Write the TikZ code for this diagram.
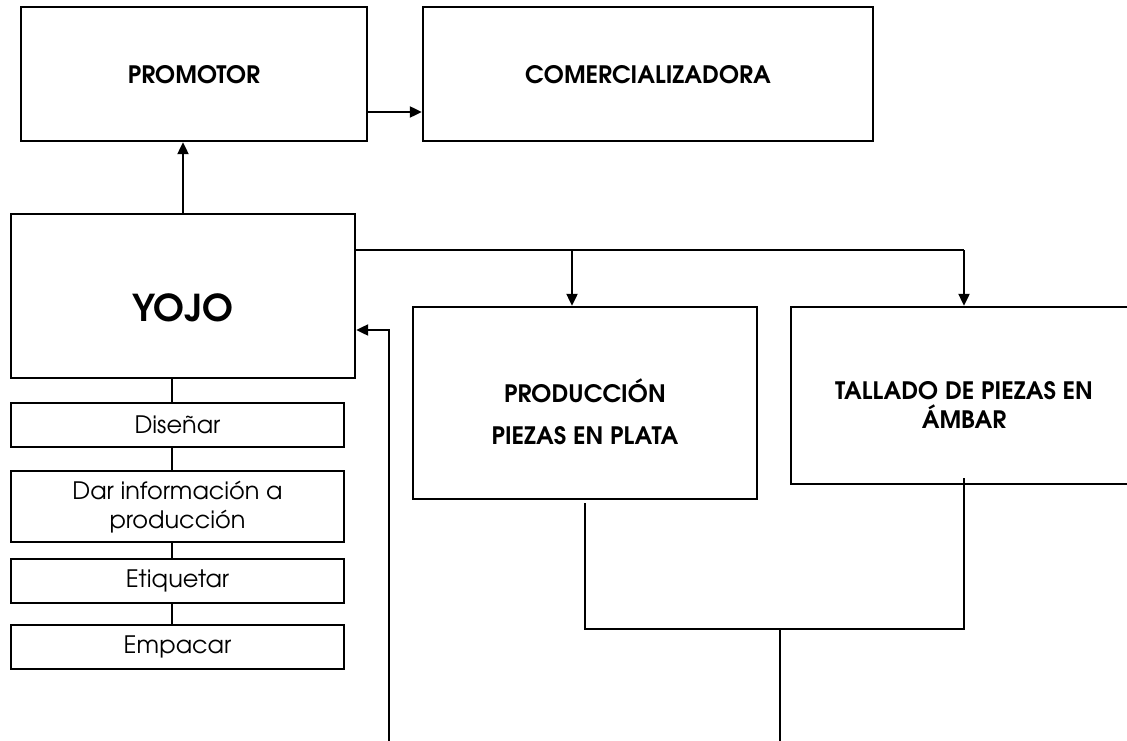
\documentclass[tikz,border=0pt]{standalone}
\usepackage{fontspec}
\setmainfont{TeX Gyre Adventor}
\usetikzlibrary{arrows.meta,calc}
\begin{document}
\begin{tikzpicture}[x=1pt,y=-1pt,
  box/.style={draw,line width=2.4pt,inner sep=0pt,minimum width=#1},
  conn/.style={line width=2.2pt},
  arr/.style={conn,-{Triangle[length=12pt,width=11pt]}},
  title/.style={font=\fontsize{24}{24}\selectfont\bfseries},
  sub/.style={font=\fontsize{24}{29}\selectfont,align=center}
]
\useasboundingbox (0,0) rectangle (1127,741);
\clip (0,0) rectangle (1127,741);
% main boxes
\node[box=346pt,minimum height=134pt] (prom) at (194,74) {};
\node[title] (promt) at (194,75) {PROMOTOR};
\node[box=450pt,minimum height=134pt] (com) at (648,74) {};
\node[title] (comt) at (648,75) {COMERCIALIZADORA};
\node[box=344pt,minimum height=164pt] (yojo) at (183,296) {};
\node[font=\fontsize{37}{37}\selectfont\bfseries] (yojot) at (183,307.5) {YOJO};
\node[box=344pt,minimum height=192pt] (prod) at (585,403) {};
\node[title,align=center] (prodt) at (585,412) {PRODUCCIÓN\\[18pt]PIEZAS EN PLATA};
\node[box=350pt,minimum height=177pt] (tall) at (966,395.5) {};
\node[title,align=center] (tallt) at (964,405) {TALLADO DE PIEZAS EN\\[4pt]ÁMBAR};
% sub boxes
\node[box=333pt,minimum height=44pt] (dis) at (177.5,425) {};
\node[sub] (dist) at (177.5,425) {Diseñar};
\node[box=333pt,minimum height=71pt] (dar) at (177.5,506.5) {};
\node[sub] (dart) at (177.5,507) {Dar información a\\producción};
\node[box=333pt,minimum height=44pt] (eti) at (177.5,581) {};
\node[sub] (etit) at (177.5,581) {Etiquetar};
\node[box=333pt,minimum height=44pt] (emp) at (177.5,647) {};
\node[sub] (empt) at (177.5,647) {Empacar};
% helper coordinates
\coordinate (vx) at (172,0);
\coordinate (j1) at (572,250);
\coordinate (j2) at (964,250);
\coordinate (fb) at (389,741);
\coordinate (tb) at (964,478);
\coordinate (m) at (780,629);
\coordinate (out) at (780,741);
% connectors
\draw[arr] (yojo.north) -- (yojo.north |- prom.south);
\draw[arr] ([yshift=-38pt]prom.east) -- ([yshift=-38pt]prom.east -| com.west);
\draw[conn] ([yshift=46pt]yojo.east) -- (j2);
\draw[arr] (j1) -- (j1 |- prod.north);
\draw[arr] (j2) -- (j2 |- tall.north);
\draw[arr] (fb) |- ([yshift=-34pt]yojo.east);
\draw[conn] ([yshift=-3pt]prod.south) |- (m) -| (tb);
\draw[conn] (m) -- (out);
\draw[conn] (yojo.south -| vx) -- (dis.north -| vx);
\draw[conn] (dis.south -| vx) -- (dar.north -| vx);
\draw[conn] (dar.south -| vx) -- (eti.north -| vx);
\draw[conn] (eti.south -| vx) -- (emp.north -| vx);
\end{tikzpicture}
\end{document}
